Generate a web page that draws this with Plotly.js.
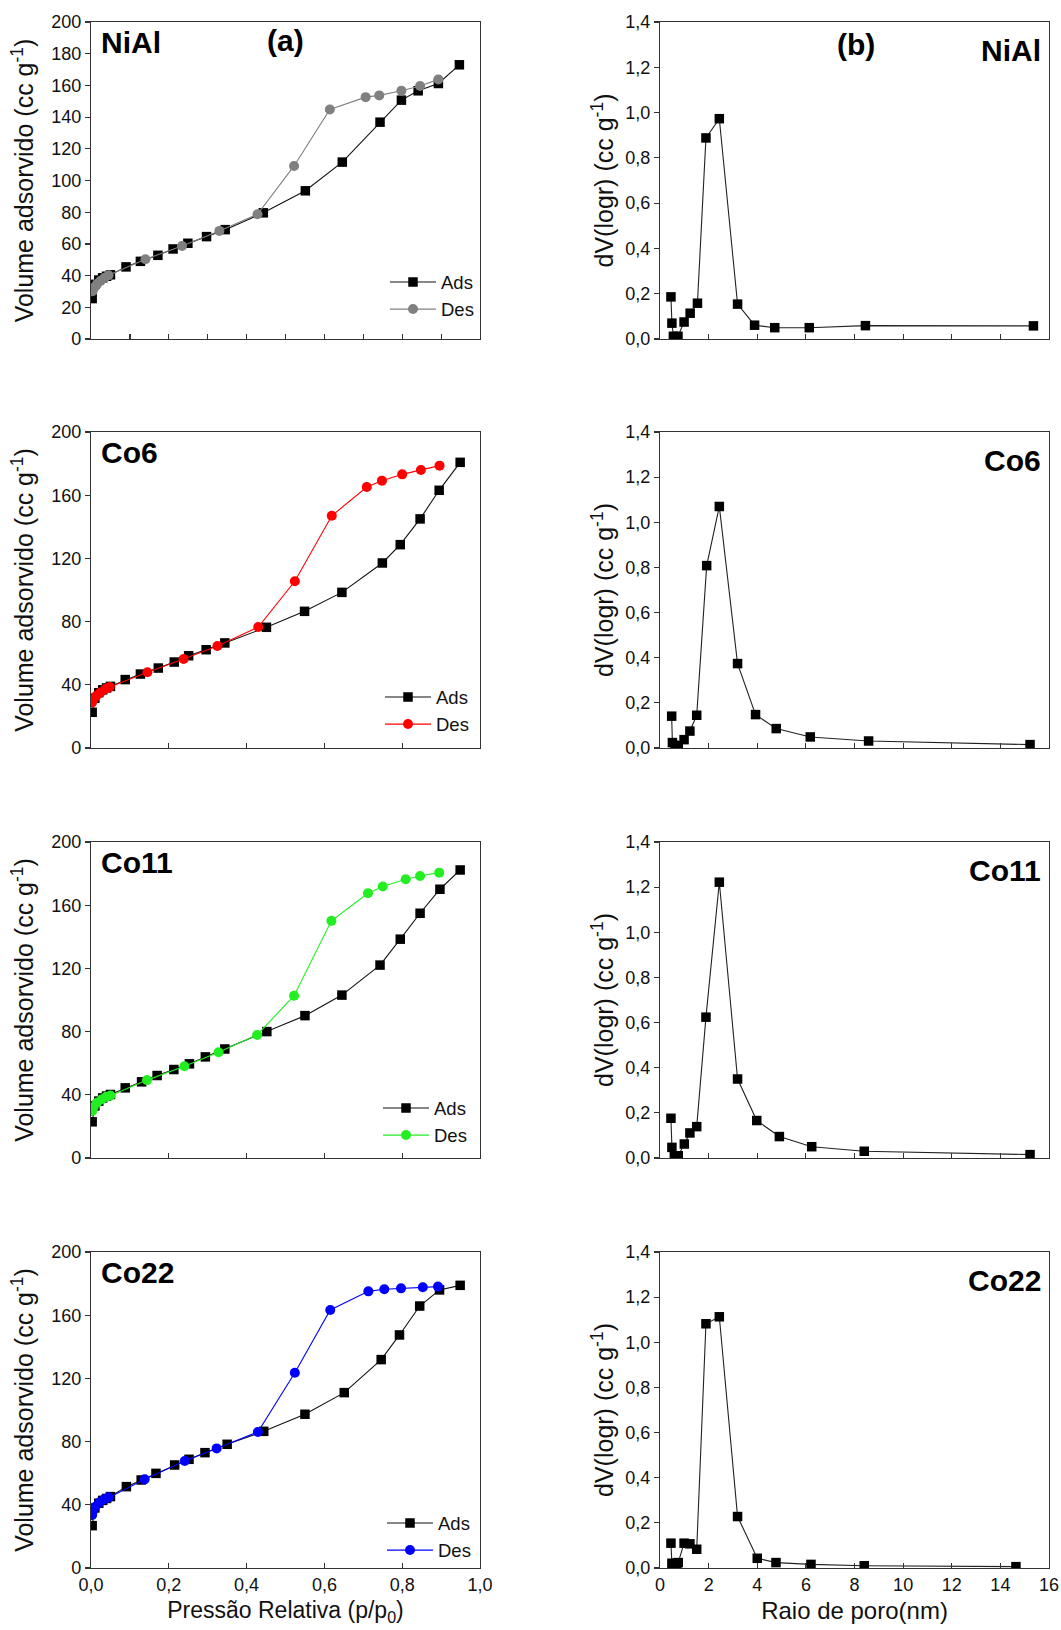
<!DOCTYPE html>
<html><head><meta charset="utf-8">
<script src="https://cdn.plot.ly/plotly-3.0.1.min.js"></script>
<style>html,body{margin:0;padding:0;background:#fff}</style>
</head><body><div id="chart" style="width:1061px;height:1630px"></div>
<script>
// ---------------- Data ----------------
const samples = ['NiAl', 'Co6', 'Co11', 'Co22'];
const desColors = ['#808080', '#ff0000', '#22ee22', '#0000ff'];

// Isotherms: relative pressure (p/p0) and adsorbed volume (cc/g)
const pAdsNiAl = [0.003, 0.010, 0.020, 0.030, 0.040, 0.050, 0.090, 0.127, 0.172, 0.211, 0.249, 0.297, 0.345, 0.443, 0.551, 0.646, 0.743, 0.798, 0.841, 0.893, 0.947];
const vAdsNiAl = [25.5, 34.5, 37.2, 38.6, 39.6, 40.5, 45.5, 49.0, 52.8, 56.8, 60.4, 64.6, 69.0, 79.6, 93.5, 111.6, 136.8, 150.7, 156.6, 161.2, 173.0];
const pDesNiAl = [0.893, 0.846, 0.798, 0.741, 0.706, 0.614, 0.522, 0.428, 0.330, 0.234, 0.140, 0.045, 0.035, 0.025, 0.016, 0.009, 0.004];
const vDesNiAl = [163.8, 159.6, 156.6, 153.7, 152.6, 144.8, 109.2, 78.7, 68.2, 58.7, 50.3, 40.2, 38.6, 36.8, 34.8, 32.6, 30.2];

const pAdsCo6 = [0.003, 0.010, 0.020, 0.030, 0.040, 0.050, 0.088, 0.127, 0.173, 0.214, 0.251, 0.296, 0.344, 0.451, 0.549, 0.645, 0.749, 0.795, 0.846, 0.895, 0.949];
const vAdsCo6 = [22.6, 31.5, 35.0, 36.8, 38.0, 39.0, 43.3, 46.8, 50.6, 54.4, 58.4, 62.2, 66.5, 76.4, 86.5, 98.5, 117.1, 128.7, 145.0, 163.1, 180.8];
const pDesCo6 = [0.896, 0.848, 0.800, 0.748, 0.709, 0.619, 0.524, 0.430, 0.325, 0.238, 0.145, 0.048, 0.037, 0.024, 0.014, 0.007, 0.003];
const vDesCo6 = [178.7, 176.0, 173.2, 169.2, 165.2, 147.0, 105.5, 76.6, 64.6, 56.3, 47.9, 38.6, 37.3, 35.2, 33.1, 31.0, 28.9];

const pAdsCo11 = [0.003, 0.010, 0.020, 0.030, 0.040, 0.050, 0.088, 0.130, 0.170, 0.213, 0.253, 0.294, 0.344, 0.452, 0.550, 0.645, 0.743, 0.795, 0.846, 0.897, 0.949];
const vAdsCo11 = [22.9, 33.0, 36.0, 38.0, 39.2, 40.2, 44.4, 48.2, 52.2, 56.0, 59.6, 64.0, 69.0, 80.0, 90.1, 103.1, 122.1, 138.5, 154.9, 170.1, 182.3];
const pDesCo11 = [0.895, 0.846, 0.809, 0.750, 0.712, 0.618, 0.522, 0.427, 0.328, 0.240, 0.144, 0.050, 0.039, 0.027, 0.015, 0.007, 0.003];
const vDesCo11 = [180.6, 178.5, 176.4, 171.8, 167.6, 150.1, 102.7, 77.9, 66.9, 58.1, 49.3, 39.6, 38.7, 37.0, 35.0, 32.4, 29.7];

const pAdsCo22 = [0.003, 0.010, 0.020, 0.030, 0.040, 0.050, 0.091, 0.129, 0.167, 0.215, 0.252, 0.293, 0.350, 0.444, 0.550, 0.651, 0.746, 0.793, 0.845, 0.896, 0.949];
const vAdsCo22 = [26.8, 38.0, 41.0, 42.8, 44.0, 45.2, 51.5, 55.7, 59.9, 65.2, 68.8, 73.0, 78.3, 86.5, 97.3, 111.0, 131.9, 147.5, 165.8, 176.0, 178.9];
const pDesCo22 = [0.892, 0.853, 0.797, 0.754, 0.713, 0.615, 0.524, 0.429, 0.323, 0.241, 0.138, 0.045, 0.034, 0.021, 0.011, 0.005, 0.003];
const vDesCo22 = [178.1, 177.7, 177.0, 176.4, 175.1, 163.3, 123.6, 86.1, 75.7, 67.7, 56.1, 44.7, 43.5, 41.4, 38.8, 36.1, 33.5];

// Pore size distribution: pore radius (nm) and dV(logr) (cc/g)
const rNiAl = [0.45, 0.49, 0.55, 0.74, 0.99, 1.24, 1.54, 1.89, 2.44, 3.19, 3.89, 4.72, 6.14, 8.45, 15.36];
const dvNiAl = [0.186, 0.070, 0.012, 0.012, 0.075, 0.114, 0.158, 0.888, 0.973, 0.154, 0.061, 0.050, 0.050, 0.059, 0.058];

const rCo6 = [0.48, 0.51, 0.62, 0.75, 0.99, 1.23, 1.51, 1.92, 2.44, 3.19, 3.93, 4.78, 6.18, 8.58, 15.22];
const dvCo6 = [0.141, 0.024, 0.012, 0.010, 0.037, 0.075, 0.145, 0.808, 1.070, 0.374, 0.148, 0.086, 0.049, 0.031, 0.015];

const rCo11 = [0.45, 0.49, 0.59, 0.75, 1.00, 1.23, 1.51, 1.89, 2.44, 3.19, 3.98, 4.91, 6.24, 8.40, 15.22];
const dvCo11 = [0.176, 0.047, 0.010, 0.010, 0.062, 0.111, 0.139, 0.624, 1.222, 0.350, 0.166, 0.095, 0.050, 0.030, 0.015];

const rCo22 = [0.45, 0.49, 0.69, 0.75, 0.99, 1.23, 1.51, 1.89, 2.44, 3.19, 4.00, 4.77, 6.21, 8.40, 14.64];
const dvCo22 = [0.110, 0.021, 0.021, 0.024, 0.110, 0.107, 0.083, 1.082, 1.113, 0.228, 0.043, 0.024, 0.016, 0.010, 0.006];

const isoAds = [[pAdsNiAl, vAdsNiAl], [pAdsCo6, vAdsCo6], [pAdsCo11, vAdsCo11], [pAdsCo22, vAdsCo22]];
const isoDes = [[pDesNiAl, vDesNiAl], [pDesCo6, vDesCo6], [pDesCo11, vDesCo11], [pDesCo22, vDesCo22]];
const psd = [[rNiAl, dvNiAl], [rCo6, dvCo6], [rCo11, dvCo11], [rCo22, dvCo22]];

// ---------------- Layout geometry ----------------
const W = 1061, H = 1630;
const colX = [[91, 480], [660, 1049]];
const rowY = [[22, 339], [432, 748], [842, 1158], [1252, 1568]];
const FONT = 'Liberation Sans, Arial, Helvetica, sans-serif';
const AXC = '#333333';

const traces = [];
const layout = {
  width: W, height: H,
  margin: {l: 0, r: 0, t: 0, b: 0, pad: 0},
  paper_bgcolor: '#ffffff', plot_bgcolor: '#ffffff',
  separators: ',.',
  font: {family: FONT, color: '#111'},
  annotations: []
};

const legendText = [[443, 296], [438, 711], [436, 1122], [440, 1537]];
const legendNames = ['legend', 'legend2', 'legend3', 'legend4'];
const itemW = 46;

for (let i = 0; i < 4; i++) {
  const ia = 2 * i + 1, ib = 2 * i + 2;
  const xa = 'x' + ia, ya = 'y' + ia, xb = 'x' + ib, yb = 'y' + ib;
  const ydom = [1 - rowY[i][1] / H, 1 - rowY[i][0] / H];
  const bottom = (i === 3);

  traces.push({
    x: isoAds[i][0], y: isoAds[i][1], xaxis: xa, yaxis: ya, name: 'Ads',
    type: 'scatter', mode: 'lines+markers', legend: legendNames[i],
    line: {color: '#111', width: 1.1},
    marker: {symbol: 'square', size: 9.5, color: '#000'}
  });
  traces.push({
    x: isoDes[i][0], y: isoDes[i][1], xaxis: xa, yaxis: ya, name: 'Des',
    type: 'scatter', mode: 'lines+markers', legend: legendNames[i],
    line: {color: desColors[i], width: 1.1},
    marker: {symbol: 'circle', size: 10, color: desColors[i]}
  });
  traces.push({
    x: psd[i][0], y: psd[i][1], xaxis: xb, yaxis: yb, name: samples[i],
    type: 'scatter', mode: 'lines+markers', showlegend: false,
    line: {color: '#222', width: 1.1},
    marker: {symbol: 'square', size: 9.5, color: '#000'}
  });

  const common = {
    showline: true, mirror: true, linecolor: AXC, linewidth: 1.2,
    showgrid: false, zeroline: false, ticklen: 5, tickwidth: 1.2, tickcolor: AXC,
    tickfont: {family: FONT, size: 18, color: '#111'}
  };

  const xA = Object.assign({}, common, {
    domain: [colX[0][0] / W, colX[0][1] / W], anchor: ya,
    range: [0, 1], tickmode: 'linear', tick0: 0, dtick: (i === 0 ? 0.1 : 0.2),
    ticks: 'inside', tickformat: '.1f', showticklabels: bottom
  });
  const xB = Object.assign({}, common, {
    domain: [colX[1][0] / W, colX[1][1] / W], anchor: yb,
    range: [0, 16], tickmode: 'linear', tick0: 0, dtick: 2,
    ticks: 'inside', showticklabels: bottom
  });
  if (bottom) {
    xA.title = {text: 'Pressão Relativa (p/p<sub>0</sub>)', font: {family: FONT, size: 23, color: '#111'}, standoff: 8};
    xB.title = {text: 'Raio de poro(nm)', font: {family: FONT, size: 24, color: '#111'}, standoff: 8};
  }
  layout['xaxis' + ia] = xA;
  layout['xaxis' + ib] = xB;

  layout['yaxis' + ia] = Object.assign({}, common, {
    domain: ydom, anchor: xa,
    range: [0, 200], tickmode: 'linear', tick0: 0, dtick: (i === 0 ? 20 : 40),
    ticks: 'outside',
    title: {text: 'Volume adsorvido (cc g<sup>-1</sup>)', font: {family: FONT, size: 25, color: '#111'}, standoff: 10}
  });
  layout['yaxis' + ib] = Object.assign({}, common, {
    domain: ydom, anchor: xb,
    range: [0, 1.4], tickmode: 'linear', tick0: 0, dtick: 0.2, tickformat: '.1f',
    ticks: 'outside',
    title: {text: 'dV(logr) (cc g<sup>-1</sup>)', font: {family: FONT, size: 25, color: '#111'}, standoff: 4}
  });

  // legend for each isotherm panel
  layout[legendNames[i]] = {
    x: (legendText[i][0] - itemW - 12) / W, xanchor: 'left',
    y: 1 - legendText[i][1] / H, yanchor: 'middle',
    bgcolor: 'rgba(0,0,0,0)', borderwidth: 0, itemwidth: itemW,
    font: {family: FONT, size: 18.5, color: '#111'}, tracegroupgap: 0
  };

  // sample labels
  const lbl = {family: FONT, size: 30, color: '#000'};
  layout.annotations.push({
    xref: xa + ' domain', yref: ya + ' domain', x: 0.02, y: 1 - 20 / 316,
    xanchor: 'left', yanchor: 'middle', showarrow: false,
    text: '<b>' + samples[i] + '</b>', font: lbl
  });
  layout.annotations.push({
    xref: xb + ' domain', yref: yb + ' domain', x: 0.985, y: 1 - 28 / 316,
    xanchor: 'right', yanchor: 'middle', showarrow: false,
    text: '<b>' + samples[i] + '</b>', font: lbl
  });
}
layout.annotations.push({
  xref: 'x1 domain', yref: 'y1 domain', x: (285 - 91) / 389, y: 1 - 18 / 316,
  xanchor: 'center', yanchor: 'middle', showarrow: false,
  text: '<b>(a)</b>', font: {family: FONT, size: 30, color: '#000'}
});
layout.annotations.push({
  xref: 'x2 domain', yref: 'y2 domain', x: (856 - 660) / 389, y: 1 - 22 / 316,
  xanchor: 'center', yanchor: 'middle', showarrow: false,
  text: '<b>(b)</b>', font: {family: FONT, size: 30, color: '#000'}
});

Plotly.newPlot('chart', traces, layout, {displayModeBar: false, staticPlot: true});
</script></body></html>
